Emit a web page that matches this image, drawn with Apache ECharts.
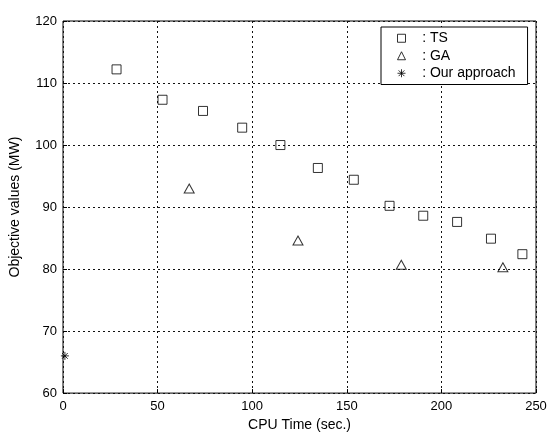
<!DOCTYPE html>
<html>
<head>
<meta charset="UTF-8">
<title>CPU time vs objective values</title>
<script src="https://cdn.jsdelivr.net/npm/echarts@6/dist/echarts.min.js"></script>
<style>
    body { margin: 0; padding: 0; background: #fff; }
    #chart { width: 550px; height: 437px; }
</style>
</head>
<body>
<div id="chart"></div>
<script>
    // values: [CPU time (sec.), objective value (MW)]
    var tsPoints = [
        [28.3, 112.2], [52.6, 107.3], [74.0, 105.5], [94.7, 102.8],
        [114.9, 100.0], [134.7, 96.3], [153.7, 94.4], [172.6, 90.2],
        [190.4, 88.6], [208.3, 87.6], [226.2, 84.9], [242.8, 82.4]
    ];
    var gaPoints = [[66.7, 93.0], [124.2, 84.6], [178.8, 80.7], [232.5, 80.3]];
    var ourPoints = [[1.0, 66.0]];
    var seriesNames = ['TS', 'GA', 'Our approach'];

    var star = 'path://M0,-5L0,5M-5,0L5,0M-3.6,-3.6L3.6,3.6M-3.6,3.6L3.6,-3.6';
    var font = "'Liberation Sans', Arial, sans-serif";
    var hollow = { color: 'rgba(0,0,0,0)', borderColor: '#000', borderWidth: 1 };

    var chart = echarts.init(document.getElementById('chart'));
    chart.setOption({
        animation: false,
        grid: {
            left: 61, right: 14, top: 21, bottom: 43,
            show: true, borderColor: '#000', borderWidth: 1, backgroundColor: '#fff'
        },
        legend: {
            orient: 'vertical',
            left: 381, top: 27,
            padding: [3, 12, 3, 16],
            itemGap: 1,
            itemWidth: 8, itemHeight: 8,
            backgroundColor: '#fff',
            borderColor: '#000', borderWidth: 1,
            itemStyle: { borderWidth: 1 },
            textStyle: { fontFamily: font, fontSize: 14, color: '#000', lineHeight: 16.5 },
            formatter: function (name) { return '   : ' + name; },
            data: seriesNames
        },
        xAxis: {
            type: 'value', min: 0, max: 250, interval: 50,
            name: 'CPU Time (sec.)', nameLocation: 'middle', nameGap: 22,
            nameTextStyle: { fontFamily: font, fontSize: 14, color: '#000' },
            axisLine: { show: false },
            axisTick: { show: true, inside: true, length: 4, lineStyle: { color: '#000' } },
            axisLabel: { fontFamily: font, fontSize: 13, color: '#000', margin: 7 },
            splitLine: { show: true, lineStyle: { color: '#111', type: [2, 3], width: 1 } }
        },
        yAxis: {
            type: 'value', min: 60, max: 120, interval: 10,
            name: 'Objective values (MW)', nameLocation: 'middle', nameGap: 41,
            nameTextStyle: { fontFamily: font, fontSize: 14, color: '#000' },
            axisLine: { show: false },
            axisTick: { show: true, inside: true, length: 4, lineStyle: { color: '#000' } },
            axisLabel: { fontFamily: font, fontSize: 13, color: '#000', margin: 6 },
            splitLine: { show: true, lineStyle: { color: '#111', type: [2, 3], width: 1 } }
        },
        series: [
            {
                name: seriesNames[0], type: 'scatter', data: tsPoints,
                symbol: 'rect', symbolSize: 9, itemStyle: hollow
            },
            {
                name: seriesNames[1], type: 'scatter', data: gaPoints,
                symbol: 'triangle', symbolSize: [10, 9], itemStyle: hollow
            },
            {
                name: seriesNames[2], type: 'scatter', data: ourPoints,
                symbol: star, symbolSize: 8, itemStyle: hollow
            }
        ]
    });
</script>
</body>
</html>
